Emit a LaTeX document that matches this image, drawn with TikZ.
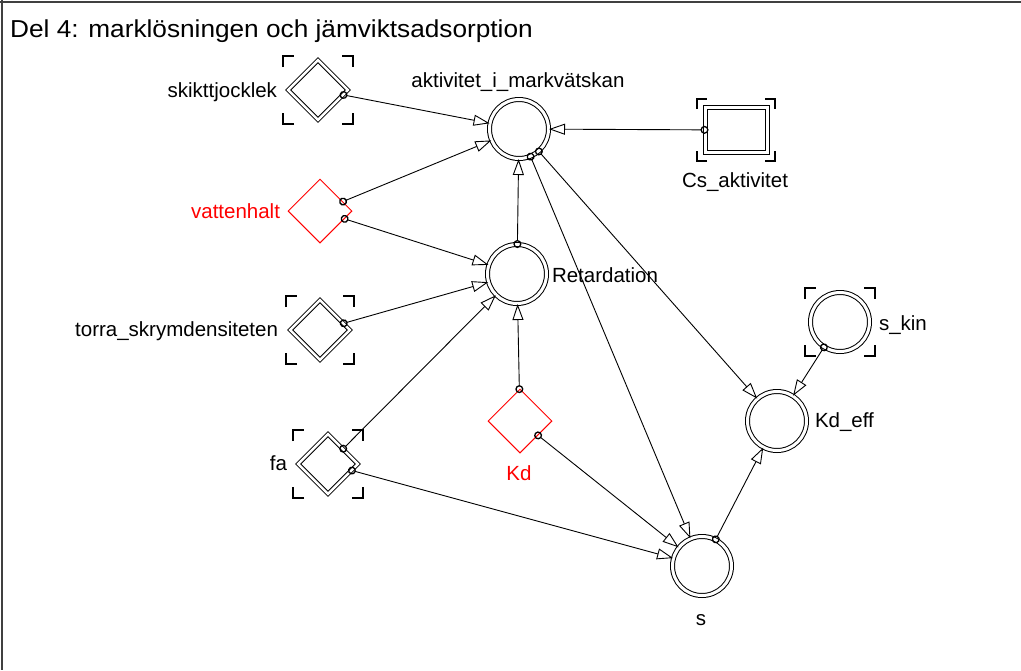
\documentclass[tikz,border=0pt]{standalone}
\usepackage{fontspec}
\setmainfont{Liberation Sans}
\newfontfamily\titlefont[FakeStretch=1.07]{Liberation Sans}
\usetikzlibrary{arrows.meta,shapes.geometric,calc}
\newcommand\cornermarks[4]{% node, half width, half height, arm
  \draw[brk] ($(#1)+(-#2,-#3+#4)$) -- ++(0,-#4) -- ++(#4,0)
             ($(#1)+(#2-#4,-#3)$) -- ++(#4,0) -- ++(0,#4)
             ($(#1)+(#2,#3-#4)$) -- ++(0,#4) -- ++(-#4,0)
             ($(#1)+(-#2+#4,#3)$) -- ++(-#4,0) -- ++(0,-#4);}
\begin{document}
\begin{tikzpicture}[x=1pt,y=-1pt,
  lab/.style={font=\fontsize{20.5}{24}\selectfont, inner sep=0pt, outer sep=0pt},
  redlab/.style={lab, text=red},
  dcirc/.style={circle, draw, double, double distance=3pt, line width=1pt, minimum size=59pt, inner sep=0pt},
  ddiam/.style={diamond, draw, double, double distance=2.5pt, line width=1pt, minimum size=60pt, inner sep=0pt, aspect=1},
  rdiam/.style={diamond, draw=red, line width=1pt, minimum size=64pt, inner sep=0pt, aspect=1},
  drect/.style={rectangle, draw, double, double distance=3pt, line width=1pt, minimum width=62pt, minimum height=45pt, inner sep=0pt},
  conn/.style={line width=0.9pt, shorten <=-4pt, {Circle[open,length=8pt,width=8pt,line width=1.3pt]}-{Triangle[open,length=16pt,width=11pt]}},
  brk/.style={line width=1.8pt},
  frame/.style={line width=2.5pt, draw=black!75},
]
\useasboundingbox (0,0) rectangle (1021,670);
\draw[frame] (0,2) -- (1021,2);
\draw[frame] (2,0) -- (2,670);
\node[font=\titlefont\fontsize{24.5}{28}\selectfont, anchor=base west, inner sep=0pt] (title) at (10,37) {Del 4: marklösningen och jämviktsadsorption};

% nodes
\node[ddiam] (sk) at (318,90) {};
\node[dcirc] (akt) at (519,129) {};
\node[drect] (cs) at (736,130) {};
\node[rdiam] (vh) at (320,211) {};
\node[dcirc] (ret) at (517,274) {};
\node[ddiam] (tor) at (320,330) {};
\node[rdiam] (kd) at (520,421) {};
\node[ddiam] (fa) at (328,464) {};
\node[dcirc] (s) at (702,566) {};
\node[dcirc] (kde) at (777,421) {};
\node[dcirc] (skin) at (840,322) {};

% corner marks
\cornermarks{sk}{35}{34}{11}
\cornermarks{tor}{34}{34}{11}
\cornermarks{fa}{35}{34}{11}
\cornermarks{skin}{35}{34}{11}
\cornermarks{cs}{39}{31}{10}

% labels
\node[lab, anchor=base east] (sk-l) at (277,97) {skikttjocklek};
\node[lab, anchor=base] (akt-l) at (518,87) {aktivitet\_i\_markvätskan};
\node[lab, anchor=base] (cs-l) at (735,187) {Cs\_aktivitet};
\node[redlab, anchor=base east] (vh-l) at (280,218) {vattenhalt};
\node[lab, anchor=base west] (ret-l) at (552,282) {Retardation};
\node[lab, anchor=base east] (tor-l) at (278,336) {torra\_skrymdensiteten};
\node[redlab, anchor=base] (kd-l) at (519,480) {Kd};
\node[lab, anchor=base east] (fa-l) at (287,470) {fa};
\node[lab, anchor=base] (s-l) at (701,625) {s};
\node[lab, anchor=base west] (kde-l) at (815,427) {Kd\_eff};
\node[lab, anchor=base west] (skin-l) at (879,330) {s\_kin};

% connectors
\draw[conn] (sk) -- (akt);
\draw[conn] (vh) -- (akt);
\draw[conn] (cs) -- (akt);
\draw[conn] (vh) -- (ret);
\draw[conn] (ret) -- (akt);
\draw[conn] (tor) -- (ret);
\draw[conn] (fa) -- (ret);
\draw[conn] (kd) -- (ret);
\draw[conn] (kd) -- (s);
\draw[conn] (fa) -- (s);
\draw[conn] (akt) -- (s);
\draw[conn] (akt) -- (kde);
\draw[conn] (s) -- (kde);
\draw[conn] (skin) -- (kde);
\end{tikzpicture}
\end{document}
